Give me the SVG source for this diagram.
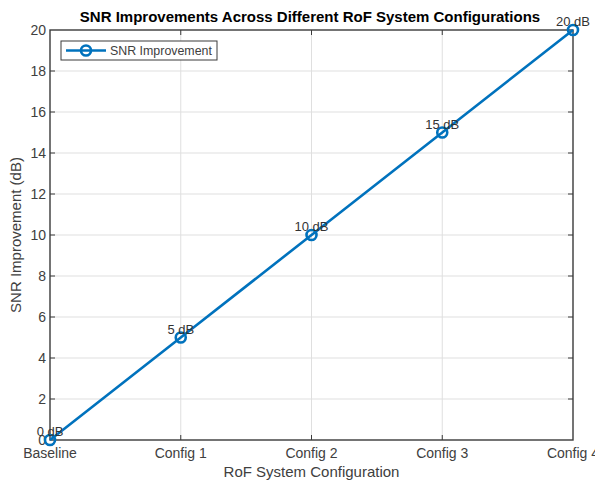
<svg xmlns="http://www.w3.org/2000/svg" width="595" height="484" viewBox="0 0 595 484">
  <style>
    text { font-family: "Liberation Sans", Arial, sans-serif; fill: #404040; }
    .grid { stroke: #dfdfdf; stroke-width: 1; fill: none; }
    .axis { stroke: #3a3a3a; stroke-width: 1.4; fill: none; }
    .tick { stroke: #3a3a3a; stroke-width: 1; }
    .ytl { font-size: 14px; text-anchor: end; }
    .xtl { font-size: 14px; text-anchor: middle; }
    .dl { font-size: 13px; text-anchor: middle; fill: #333; }
    .series { stroke: #0072BD; stroke-width: 2.6; fill: none; stroke-linejoin: round; }
    .mk { stroke: #0072BD; stroke-width: 2.6; fill: none; }
  </style>
  <rect width="595" height="484" fill="#ffffff"/>

  <!-- grid -->
  <g id="grid" class="grid">
    <path d="M180.75 30V440M311.5 30V440M442.25 30V440"/>
    <path d="M50 399H573M50 358H573M50 317H573M50 276H573M50 235H573M50 194H573M50 153H573M50 112H573M50 71H573"/>
  </g>

  <!-- axes box and ticks -->
  <g id="axes">
    <rect class="axis" x="50" y="30" width="523" height="410"/>
    <path class="tick" d="M180.75 440v-5M311.5 440v-5M442.25 440v-5M180.75 30v5M311.5 30v5M442.25 30v5"/>
    <path class="tick" d="M50 399h5M50 358h5M50 317h5M50 276h5M50 235h5M50 194h5M50 153h5M50 112h5M50 71h5M573 399h-5M573 358h-5M573 317h-5M573 276h-5M573 235h-5M573 194h-5M573 153h-5M573 112h-5M573 71h-5"/>
  </g>

  <!-- y tick labels -->
  <g id="yticks">
    <text class="ytl" x="46" y="445">0</text>
    <text class="ytl" x="46" y="404">2</text>
    <text class="ytl" x="46" y="363">4</text>
    <text class="ytl" x="46" y="322">6</text>
    <text class="ytl" x="46" y="281">8</text>
    <text class="ytl" x="46" y="240">10</text>
    <text class="ytl" x="46" y="199">12</text>
    <text class="ytl" x="46" y="158">14</text>
    <text class="ytl" x="46" y="117">16</text>
    <text class="ytl" x="46" y="76">18</text>
    <text class="ytl" x="46" y="35">20</text>
  </g>

  <!-- x tick labels -->
  <g id="xticks">
    <text class="xtl" x="50" y="458">Baseline</text>
    <text class="xtl" x="180.75" y="458">Config 1</text>
    <text class="xtl" x="311.5" y="458">Config 2</text>
    <text class="xtl" x="442.25" y="458">Config 3</text>
    <text class="xtl" x="573" y="458">Config 4</text>
  </g>

  <!-- titles -->
  <g id="labels">
    <text x="310" y="22" font-size="15" font-weight="bold" text-anchor="middle" fill="#000" style="fill:#000">SNR Improvements Across Different RoF System Configurations</text>
    <text x="311.5" y="477" font-size="15" text-anchor="middle">RoF System Configuration</text>
    <text transform="translate(20.5 235) rotate(-90)" font-size="15" text-anchor="middle">SNR Improvement (dB)</text>
  </g>

  <!-- data series -->
  <g id="connectors">
    <polyline class="series" points="50,440 180.75,337.5 311.5,235 442.25,132.5 573,30"/>
  </g>
  <g id="markers">
    <circle class="mk" cx="50" cy="440" r="5"/>
    <circle class="mk" cx="180.75" cy="337.5" r="5"/>
    <circle class="mk" cx="311.5" cy="235" r="5"/>
    <circle class="mk" cx="442.25" cy="132.5" r="5"/>
    <circle class="mk" cx="573" cy="30" r="5"/>
  </g>

  <!-- point labels -->
  <g id="datalabels">
    <text class="dl" x="50" y="436">0 dB</text>
    <text class="dl" x="180.75" y="333.5">5 dB</text>
    <text class="dl" x="311.5" y="231">10 dB</text>
    <text class="dl" x="442.25" y="128.5">15 dB</text>
    <text class="dl" x="573" y="26">20 dB</text>
  </g>

  <!-- legend -->
  <g id="legend">
    <rect x="61" y="41" width="156" height="19" fill="#fff" stroke="#3a3a3a" stroke-width="1"/>
    <line class="series" x1="66" y1="50.5" x2="106" y2="50.5"/>
    <circle class="mk" cx="86" cy="50.5" r="5"/>
    <text x="110" y="55" font-size="12.4">SNR Improvement</text>
  </g>
</svg>
